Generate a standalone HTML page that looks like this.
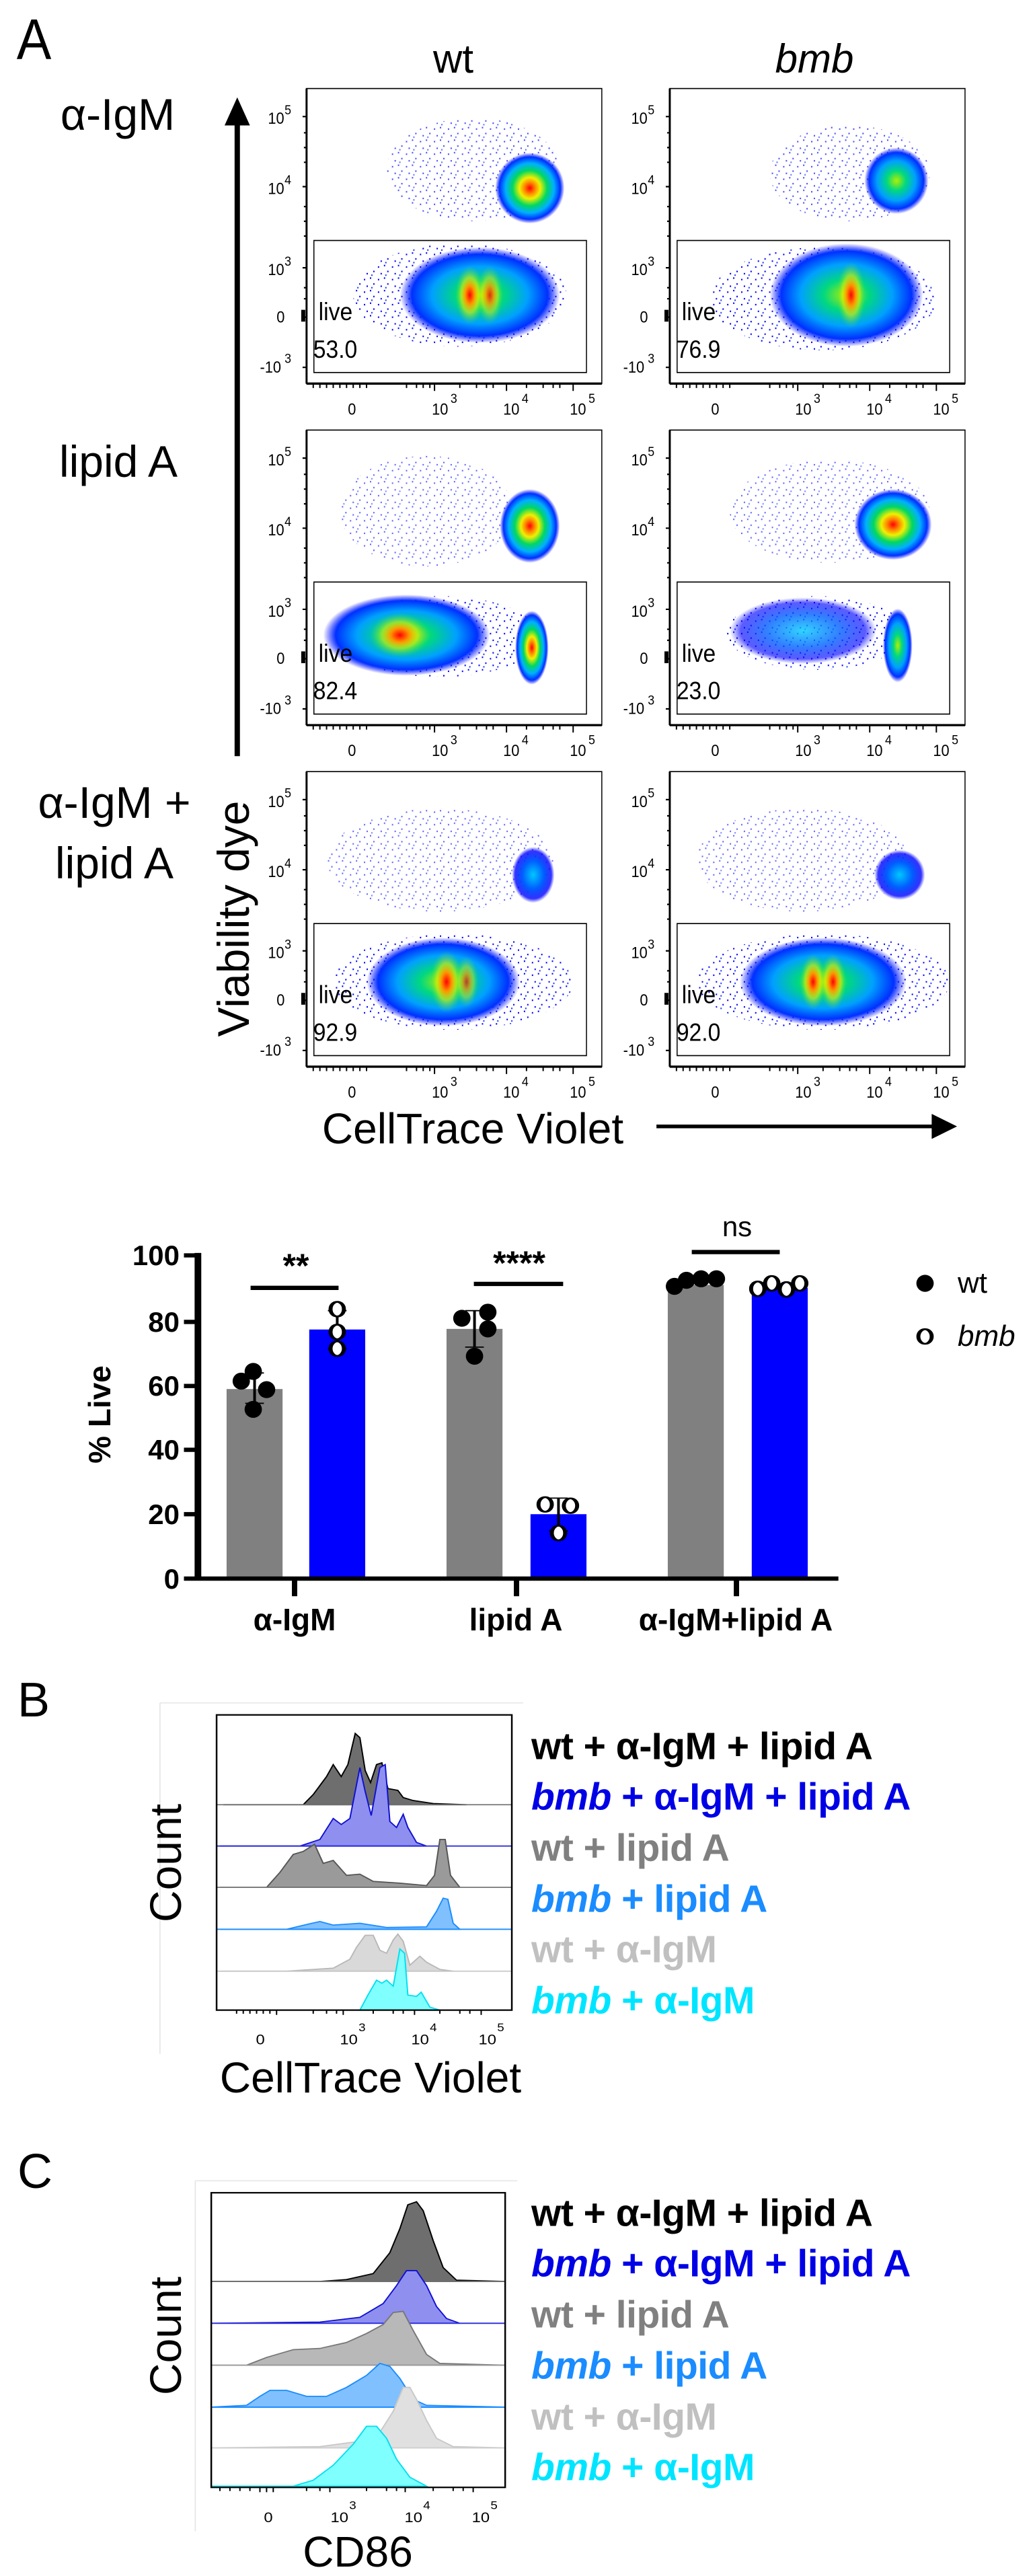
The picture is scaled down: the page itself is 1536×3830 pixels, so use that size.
<!DOCTYPE html>
<html><head><meta charset="utf-8"><style>
body{margin:0;width:1536px;height:3830px;background:#fff;position:relative;overflow:hidden;font-family:"Liberation Sans",sans-serif;}
.t{position:absolute;white-space:nowrap;line-height:1;}
.c{transform:translate(-50%,-50%);}
.r{transform:translate(-50%,-50%) rotate(-90deg);}
.b{font-weight:bold;}
.n{font-family:"Liberation Sans Narrow","Liberation Sans",sans-serif;font-weight:bold;}
svg{position:absolute;left:0;}
.lg{position:absolute;left:790px;font-size:57px;font-weight:bold;white-space:nowrap;line-height:1;transform:translateY(-50%);letter-spacing:-0.5px;}
</style></head><body>

<!-- PANEL A -->
<svg style="top:0" width="1536" height="1700" viewBox="0 0 1550 1550" preserveAspectRatio="none">
<defs>
<radialGradient id="hot"><stop offset="0" stop-color="#ff0000"/><stop offset=".15" stop-color="#ff8000"/><stop offset=".3" stop-color="#f0f000"/><stop offset=".5" stop-color="#00d860"/><stop offset=".7" stop-color="#00b0ff"/><stop offset=".88" stop-color="#0030ff"/><stop offset="1" stop-color="#0000ff" stop-opacity="0"/></radialGradient>
<radialGradient id="core"><stop offset="0" stop-color="#ff0000"/><stop offset=".3" stop-color="#ff9000"/><stop offset=".6" stop-color="#e8f000" stop-opacity=".6"/><stop offset="1" stop-color="#40e040" stop-opacity="0"/></radialGradient>
<radialGradient id="warm"><stop offset="0" stop-color="#b0f000"/><stop offset=".3" stop-color="#00d880"/><stop offset=".6" stop-color="#00a0ff"/><stop offset=".85" stop-color="#0030ff"/><stop offset="1" stop-color="#0000ff" stop-opacity="0"/></radialGradient>
<radialGradient id="cool"><stop offset="0" stop-color="#00c8ff"/><stop offset=".5" stop-color="#0060ff"/><stop offset=".85" stop-color="#0000ff" stop-opacity=".8"/><stop offset="1" stop-color="#0000ff" stop-opacity="0"/></radialGradient>
<pattern id="sp" width="21" height="17" patternUnits="userSpaceOnUse"><rect x="2" y="3" width="2" height="2" fill="#0000ff"/><rect x="11" y="1" width="2" height="2" fill="#0000ff"/><rect x="16" y="9" width="2" height="2" fill="#0000ff"/><rect x="6" y="12" width="2" height="2" fill="#0000ff"/><rect x="13" y="14" width="2" height="2" fill="#2040ff"/></pattern>
<g id="axes">
<rect x="0" y="0" width="443" height="400" fill="none" stroke="#000" stroke-width="1.5"/>
<rect x="11" y="206" width="409" height="179" fill="none" stroke="#000" stroke-width="1.5"/>
<line x1="0" y1="400" x2="0" y2="0" stroke="#000" stroke-width="3"/>
<line x1="0" y1="400" x2="443" y2="400" stroke="#000" stroke-width="3"/>
<path d="M10,400v6M20,400v6M30,400v6M40,400v6M50,400v6M60,400v6M70,400v6M80,400v6M90,400v6M150,400v6M165,400v6M175,400v6M185,400v6M192,400v10M230,400v6M255,400v6M270,400v6M280,400v6M300,400v10M330,400v6M355,400v6M370,400v6M380,400v6M400,400v10M-6,38h6M-6,133h6M-6,243h6M-6,310h6M-6,378h6M-4,60h4M-4,80h4M-4,100h4M-4,160h4M-4,180h4M-4,200h4M-4,270h4M-4,285h4" stroke="#000" stroke-width="2"/>
<rect x="-8" y="300" width="6" height="16" fill="#000"/>
<g font-family="Liberation Sans,sans-serif" font-size="22" fill="#000">
<text x="-58" y="48">10</text><text x="-33" y="35" font-size="18">5</text>
<text x="-58" y="143">10</text><text x="-33" y="130" font-size="18">4</text>
<text x="-58" y="253">10</text><text x="-33" y="240" font-size="18">3</text>
<text x="-45" y="317">0</text>
<text x="-70" y="385">-10</text><text x="-33" y="372" font-size="18">3</text>
<text x="62" y="442">0</text>
<text x="188" y="442">10</text><text x="216" y="426" font-size="18">3</text>
<text x="295" y="442">10</text><text x="323" y="426" font-size="18">4</text>
<text x="395" y="442">10</text><text x="423" y="426" font-size="18">5</text>
</g>
<text x="18" y="314" font-family="Liberation Sans,sans-serif" font-size="34">live</text>
</g>
</defs>
<text x="25" y="80" font-family="Liberation Sans,sans-serif" font-size="78">A</text>
<line x1="356" y1="1025" x2="356" y2="165" stroke="#000" stroke-width="8"/>
<polygon points="337,170 375,170 356,132" fill="#000"/>
<line x1="985" y1="1527" x2="1405" y2="1527" stroke="#000" stroke-width="5"/>
<polygon points="1398,1510 1398,1544 1436,1527" fill="#000"/>

<g transform="translate(460,120)">
<ellipse cx="250" cy="110" rx="130" ry="70" fill="url(#sp)" opacity=".7"/>
<ellipse cx="230" cy="280" rx="160" ry="70" fill="url(#sp)"/>
<ellipse cx="335" cy="135" rx="52" ry="48" fill="url(#hot)"/>
<ellipse cx="260" cy="280" rx="120" ry="65" fill="url(#warm)"/>
<ellipse cx="245" cy="280" rx="22" ry="40" fill="url(#core)"/>
<ellipse cx="275" cy="280" rx="20" ry="40" fill="url(#core)" opacity=".8"/>
<use href="#axes"/>
<text x="10" y="365" font-family="Liberation Sans,sans-serif" font-size="34">53.0</text>
</g>
<g transform="translate(1005,120)">
<ellipse cx="270" cy="115" rx="120" ry="65" fill="url(#sp)" opacity=".7"/>
<ellipse cx="230" cy="285" rx="170" ry="70" fill="url(#sp)"/>
<ellipse cx="340" cy="125" rx="48" ry="45" fill="url(#warm)"/>
<ellipse cx="265" cy="280" rx="115" ry="70" fill="url(#warm)"/>
<ellipse cx="272" cy="280" rx="22" ry="45" fill="url(#core)"/>
<use href="#axes"/>
<text x="10" y="365" font-family="Liberation Sans,sans-serif" font-size="34">76.9</text>
</g>
<g transform="translate(460,583)">
<ellipse cx="180" cy="110" rx="130" ry="75" fill="url(#sp)" opacity=".6"/>
<ellipse cx="335" cy="130" rx="45" ry="50" fill="url(#hot)"/>
<ellipse cx="200" cy="280" rx="150" ry="55" fill="url(#sp)"/>
<ellipse cx="150" cy="278" rx="125" ry="55" fill="url(#warm)"/>
<ellipse cx="140" cy="278" rx="45" ry="30" fill="url(#core)"/>
<ellipse cx="338" cy="295" rx="25" ry="50" fill="url(#hot)"/>
<use href="#axes"/>
<text x="10" y="365" font-family="Liberation Sans,sans-serif" font-size="34">82.4</text>
</g>
<g transform="translate(1005,583)">
<ellipse cx="240" cy="110" rx="150" ry="70" fill="url(#sp)" opacity=".6"/>
<ellipse cx="335" cy="128" rx="58" ry="48" fill="url(#hot)"/>
<ellipse cx="220" cy="275" rx="135" ry="50" fill="url(#sp)"/>
<ellipse cx="200" cy="272" rx="110" ry="45" fill="url(#cool)" opacity=".8"/>
<ellipse cx="342" cy="292" rx="22" ry="50" fill="url(#warm)"/>
<use href="#axes"/>
<text x="10" y="365" font-family="Liberation Sans,sans-serif" font-size="34">23.0</text>
</g>
<g transform="translate(460,1046)">
<ellipse cx="200" cy="120" rx="170" ry="70" fill="url(#sp)" opacity=".6"/>
<ellipse cx="340" cy="140" rx="32" ry="38" fill="url(#cool)"/>
<ellipse cx="220" cy="285" rx="180" ry="65" fill="url(#sp)"/>
<ellipse cx="205" cy="285" rx="115" ry="60" fill="url(#warm)"/>
<ellipse cx="210" cy="285" rx="25" ry="42" fill="url(#core)"/>
<ellipse cx="240" cy="285" rx="18" ry="35" fill="url(#core)" opacity=".7"/>
<use href="#axes"/>
<text x="10" y="365" font-family="Liberation Sans,sans-serif" font-size="34">92.9</text>
</g>
<g transform="translate(1005,1046)">
<ellipse cx="200" cy="120" rx="160" ry="70" fill="url(#sp)" opacity=".6"/>
<ellipse cx="345" cy="140" rx="38" ry="34" fill="url(#cool)"/>
<ellipse cx="230" cy="285" rx="190" ry="65" fill="url(#sp)"/>
<ellipse cx="230" cy="285" rx="125" ry="60" fill="url(#warm)"/>
<ellipse cx="215" cy="285" rx="20" ry="38" fill="url(#core)"/>
<ellipse cx="245" cy="285" rx="20" ry="38" fill="url(#core)"/>
<use href="#axes"/>
<text x="10" y="365" font-family="Liberation Sans,sans-serif" font-size="34">92.0</text>
</g>
</svg>

<div class="t c" style="left:674px;top:88px;font-size:60px">wt</div>
<div class="t c" style="left:1211px;top:88px;font-size:60px;font-style:italic">bmb</div>
<div class="t c" style="left:175px;top:170px;font-size:66px">α-IgM</div>
<div class="t c" style="left:176px;top:686px;font-size:66px">lipid A</div>
<div class="t c" style="left:170px;top:1193px;font-size:66px">α-IgM +</div>
<div class="t c" style="left:170px;top:1283px;font-size:66px">lipid A</div>
<div class="t r" style="left:347px;top:1366px;font-size:66px">Viability dye</div>
<div class="t c" style="left:703px;top:1678px;font-size:64px">CellTrace Violet</div>

<svg style="top:1750px" width="1536" height="700" viewBox="0 0 1550 1550" preserveAspectRatio="none">
<rect x="340" y="698" width="84" height="622" fill="#808080"/>
<rect x="464" y="502" width="84" height="818" fill="#0000ff"/>
<rect x="670" y="500" width="84" height="820" fill="#808080"/>
<rect x="796" y="1110" width="84" height="210" fill="#0000ff"/>
<rect x="1002" y="355" width="84" height="965" fill="#808080"/>
<rect x="1128" y="365" width="84" height="955" fill="#0000ff"/>
<g stroke="#000" stroke-width="4">
<path d="M382,645V745M368,645h28M368,745h28"/>
<path d="M506,440V565M492,440h28M492,565h28"/>
<path d="M712,440V560M698,440h28M698,560h28"/>
<path d="M838,1057V1165M824,1057h28M824,1165h28"/>
</g>
<g fill="#000">
<ellipse cx="380" cy="640" rx="13" ry="28"/><ellipse cx="362" cy="672" rx="13" ry="28"/><ellipse cx="400" cy="700" rx="13" ry="28"/><ellipse cx="380" cy="765" rx="13" ry="28"/>
<ellipse cx="693" cy="465" rx="13" ry="28"/><ellipse cx="732" cy="445" rx="13" ry="28"/><ellipse cx="732" cy="500" rx="13" ry="28"/><ellipse cx="712" cy="590" rx="13" ry="28"/>
<ellipse cx="1012" cy="360" rx="13" ry="28"/><ellipse cx="1030" cy="340" rx="13" ry="28"/><ellipse cx="1052" cy="335" rx="13" ry="28"/><ellipse cx="1075" cy="335" rx="13" ry="28"/>
<ellipse cx="1388" cy="350" rx="13" ry="28"/>
</g>
<g fill="#fff" stroke="#000" stroke-width="6">
<ellipse cx="506" cy="435" rx="10" ry="24"/><ellipse cx="506" cy="510" rx="10" ry="24"/><ellipse cx="506" cy="565" rx="10" ry="24"/>
<ellipse cx="818" cy="1078" rx="10" ry="24"/><ellipse cx="856" cy="1082" rx="10" ry="24"/><ellipse cx="838" cy="1172" rx="10" ry="24"/>
<ellipse cx="1137" cy="368" rx="10" ry="24"/><ellipse cx="1158" cy="350" rx="10" ry="24"/><ellipse cx="1180" cy="370" rx="10" ry="24"/><ellipse cx="1200" cy="350" rx="10" ry="24"/>
<ellipse cx="1388" cy="525" rx="10" ry="24"/>
</g>
<g stroke="#000">
<line x1="297" y1="250" x2="297" y2="1328" stroke-width="10"/>
<line x1="276" y1="1322" x2="1258" y2="1322" stroke-width="14"/>
<path d="M276,258h21M276,477h21M276,688h21M276,898h21M276,1110h21" stroke-width="14"/>
<path d="M442,1322v58M775,1322v58M1105,1322v58" stroke-width="8"/>
<path d="M376,365h132M711,352h134M1038,247h132" stroke-width="14"/>
</g>
</svg>
<div class="t n" style="right:1269px;top:1867px;font-size:42px;transform:translateY(-50%)">100</div>
<div class="t n" style="right:1269px;top:1966px;font-size:42px;transform:translateY(-50%)">80</div>
<div class="t n" style="right:1269px;top:2061px;font-size:42px;transform:translateY(-50%)">60</div>
<div class="t n" style="right:1269px;top:2156px;font-size:42px;transform:translateY(-50%)">40</div>
<div class="t n" style="right:1269px;top:2252px;font-size:42px;transform:translateY(-50%)">20</div>
<div class="t n" style="right:1269px;top:2348px;font-size:42px;transform:translateY(-50%)">0</div>
<div class="t n r" style="left:148px;top:2103px;font-size:46px">% Live</div>
<div class="t n c" style="left:440px;top:1882px;font-size:50px">**</div>
<div class="t n c" style="left:772px;top:1878px;font-size:50px">****</div>
<div class="t c" style="left:1096px;top:1824px;font-size:42px;font-family:'Liberation Sans Narrow','Liberation Sans',sans-serif">ns</div>
<div class="t n c" style="left:438px;top:2408px;font-size:46px">α-IgM</div>
<div class="t n c" style="left:767px;top:2408px;font-size:46px">lipid A</div>
<div class="t n c" style="left:1094px;top:2408px;font-size:46px">α-IgM+lipid A</div>
<div class="t" style="left:1424px;top:1908px;font-size:44px;transform:translateY(-50%);font-family:'Liberation Sans Narrow','Liberation Sans',sans-serif">wt</div>
<div class="t" style="left:1424px;top:1987px;font-size:44px;transform:translateY(-50%);font-style:italic;font-family:'Liberation Sans Narrow','Liberation Sans',sans-serif">bmb</div>

<svg style="top:2450px" width="1536" height="1380" viewBox="0 0 1550 1550" preserveAspectRatio="none">
<g fill="none" stroke="#e8e8e8" stroke-width="2">
<path d="M240,92H785M240,92V678"/>
<path d="M293,890H776M293,890V1475"/>
</g>
<g stroke-width="2">
<path d="M335,262L455,262L470,245L490,215L500,195L512,215L522,195L533,143L540,150L548,205L556,225L565,195L573,192L582,235L597,238L605,250L620,255L650,260L700,262Z" fill="#6e6e6e" stroke="#000"/>
<line x1="325" y1="262" x2="768" y2="262" stroke="#777"/>
<path d="M330,331L450,331L480,320L500,285L512,295L525,285L540,200L548,240L557,280L570,200L578,195L585,290L595,300L605,278L612,300L625,325L640,331Z" fill="#8f8ff0" stroke="#1010d0"/>
<line x1="325" y1="331" x2="768" y2="331" stroke="#3030e0"/>
<path d="M330,400L400,400L420,375L440,345L455,340L472,328L485,360L500,355L520,380L540,378L560,390L600,393L640,397L652,380L660,320L668,320L676,380L690,400Z" fill="#9a9a9a" stroke="#555"/>
<line x1="325" y1="400" x2="768" y2="400" stroke="#777"/>
<path d="M330,470L430,470L460,462L480,457L500,463L540,460L580,467L640,466L655,440L665,418L672,420L680,460L690,470Z" fill="#80c0ff" stroke="#1a8cff"/>
<line x1="325" y1="470" x2="768" y2="470" stroke="#1a8cff"/>
<path d="M330,540L430,540L500,535L525,520L535,500L548,480L560,480L570,505L580,510L590,488L597,478L605,490L615,530L630,515L640,525L660,537L680,540Z" fill="#d9d9d9" stroke="#b8b8b8"/>
<line x1="325" y1="540" x2="768" y2="540" stroke="#c8c8c8"/>
<path d="M330,605L540,605L552,580L565,555L573,560L580,555L590,565L600,503L607,510L612,580L625,582L632,575L645,600L660,605Z" fill="#80ffff" stroke="#00e0f0"/>
</g>
<rect x="325" y="112" width="443" height="493" fill="none" stroke="#000" stroke-width="2.5"/>
<path d="M355,605v6M365,605v6M375,605v6M385,605v6M395,605v6M405,605v6M415,605v8M470,605v6M490,605v6M505,605v6M515,605v8M560,605v6M590,605v6M605,605v6M622,605v8M660,605v6M690,605v6M705,605v6M722,605v8" stroke="#000" stroke-width="2"/>
<g font-family="Liberation Sans,sans-serif" font-size="24">
<text x="384" y="662">0</text>
<text x="510" y="662">10</text><text x="538" y="640" font-size="19">3</text>
<text x="617" y="662">10</text><text x="645" y="640" font-size="19">4</text>
<text x="718" y="662">10</text><text x="746" y="640" font-size="19">5</text>
</g>

<g stroke-width="2">
<path d="M317,1058L480,1058L520,1055L560,1045L585,1010L600,970L612,930L625,925L635,940L650,990L665,1035L685,1056L758,1058Z" fill="#6e6e6e" stroke="#000"/>
<line x1="317" y1="1058" x2="758" y2="1058" stroke="#777"/>
<path d="M317,1128L480,1126L540,1118L575,1095L595,1065L610,1040L625,1040L640,1065L655,1100L670,1120L690,1128L758,1128Z" fill="#8f8ff0" stroke="#1010d0"/>
<line x1="317" y1="1128" x2="758" y2="1128" stroke="#3030e0"/>
<path d="M317,1198L370,1198L400,1185L440,1172L480,1170L520,1160L550,1145L575,1130L590,1110L605,1108L620,1140L640,1180L660,1195L758,1198Z" fill="#b8b8b8" stroke="#777"/>
<line x1="317" y1="1198" x2="758" y2="1198" stroke="#999"/>
<path d="M317,1268L370,1265L390,1250L405,1240L430,1240L460,1250L490,1250L520,1235L550,1215L570,1195L585,1200L600,1220L620,1255L640,1265L758,1268Z" fill="#80c0ff" stroke="#1a8cff"/>
<line x1="317" y1="1268" x2="758" y2="1268" stroke="#1a8cff"/>
<path d="M317,1336L480,1334L540,1325L570,1310L590,1275L605,1235L615,1235L625,1255L640,1290L655,1320L680,1334L758,1336Z" fill="#e0e0e0" stroke="#c8c8c8"/>
<line x1="317" y1="1336" x2="758" y2="1336" stroke="#d0d0d0"/>
<path d="M317,1400L440,1400L470,1390L500,1365L530,1330L550,1300L565,1300L580,1320L595,1355L615,1385L640,1400Z" fill="#80ffff" stroke="#00e0f0"/>
</g>
<rect x="317" y="910" width="441" height="492" fill="none" stroke="#000" stroke-width="2.5"/>
<path d="M330,1402v6M345,1402v6M360,1402v6M375,1402v6M390,1402v8M400,1402v8M410,1402v8M460,1402v6M480,1402v6M495,1402v8M550,1402v6M580,1402v6M595,1402v6M608,1402v8M650,1402v6M680,1402v6M695,1402v6M710,1402v8" stroke="#000" stroke-width="2"/>
<g font-family="Liberation Sans,sans-serif" font-size="24">
<text x="396" y="1460">0</text>
<text x="496" y="1460">10</text><text x="524" y="1438" font-size="19">3</text>
<text x="607" y="1460">10</text><text x="635" y="1438" font-size="19">4</text>
<text x="708" y="1460">10</text><text x="736" y="1438" font-size="19">5</text>
</g>
</svg>

<div class="t" style="left:26px;top:2528px;font-size:72px;transform:translateY(-50%)">B</div>
<div class="t r" style="left:246px;top:2770px;font-size:66px">Count</div>
<div class="t c" style="left:551px;top:3089px;font-size:64px">CellTrace Violet</div>
<div class="lg" style="top:2597px;color:#000">wt + α-IgM + lipid A</div>
<div class="lg" style="top:2672px;color:#0000e6"><i>bmb</i> + α-IgM + lipid A</div>
<div class="lg" style="top:2748px;color:#808080">wt + lipid A</div>
<div class="lg" style="top:2824px;color:#1a8cff"><i>bmb</i> + lipid A</div>
<div class="lg" style="top:2899px;color:#c0c0c0">wt + α-IgM</div>
<div class="lg" style="top:2975px;color:#00e5ff"><i>bmb</i> + α-IgM</div>

<div class="t" style="left:26px;top:3229px;font-size:72px;transform:translateY(-50%)">C</div>
<div class="t r" style="left:246px;top:3473px;font-size:66px">Count</div>
<div class="t c" style="left:532px;top:3794px;font-size:64px">CD86</div>
<div class="lg" style="top:3291px;color:#000">wt + α-IgM + lipid A</div>
<div class="lg" style="top:3366px;color:#0000e6"><i>bmb</i> + α-IgM + lipid A</div>
<div class="lg" style="top:3442px;color:#808080">wt + lipid A</div>
<div class="lg" style="top:3518px;color:#1a8cff"><i>bmb</i> + lipid A</div>
<div class="lg" style="top:3594px;color:#c0c0c0">wt + α-IgM</div>
<div class="lg" style="top:3669px;color:#00e5ff"><i>bmb</i> + α-IgM</div>
</body></html>
